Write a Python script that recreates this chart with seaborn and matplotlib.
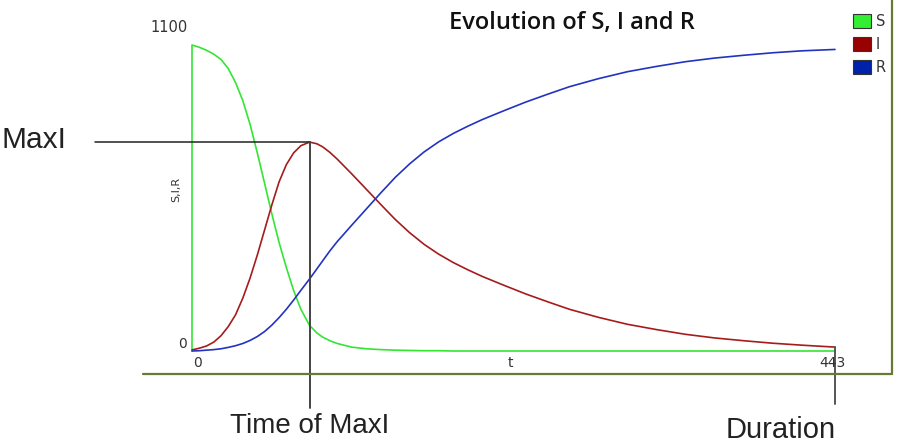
import numpy as np
import pandas as pd
import matplotlib
matplotlib.use("Agg")
import matplotlib.pyplot as plt
from matplotlib.patches import Patch
from matplotlib.lines import Line2D
import seaborn as sns

# ---- data ----
t = [0, 5, 10, 15, 20, 25, 30, 35, 40, 45, 50, 55, 60, 65, 70, 75, 81, 86, 90, 95,
     100, 110, 120, 130, 140, 150, 160, 170, 180, 190, 200, 215, 230, 245, 260, 280,
     300, 320, 340, 360, 380, 400, 420, 443]
S = [1100, 1092, 1081, 1067, 1048, 1015, 965, 900, 815, 712, 603, 493, 390, 300, 218,
     150, 92, 65, 50, 37, 27, 14, 8, 5, 3, 2, 1, 1, 0, 0, 0, 0, 0, 0, 0, 0, 0, 0, 0,
     0, 0, 0, 0, 0]
I = [4, 10, 18, 32, 55, 88, 130, 190, 262, 345, 435, 525, 608, 670, 712, 738, 751, 745,
     734, 714, 690, 637, 582, 527, 473, 425, 383, 348, 318, 292, 268, 236, 205, 177, 150,
     121, 96, 77, 60, 47, 37, 28, 21, 14]
R = [0, 1, 3, 5, 8, 13, 19, 27, 38, 52, 70, 93, 120, 150, 183, 218, 259, 295, 324, 360,
     393, 452, 510, 568, 624, 673, 716, 752, 782, 808, 832, 864, 895, 923, 950, 979,
     1004, 1023, 1040, 1053, 1063, 1072, 1079, 1084]
series_names = ["S", "I", "R"]
t_end = 443
y_top = 1100

W, H = 905, 444
fig = plt.figure(figsize=(W / 100, H / 100), dpi=100)
sns.set_style("white")
plt.rcParams["font.family"] = ["DejaVu Sans"]

# axes so that t=0 -> px 192, t=443 -> px 835, y=0 -> px 351, y=1100 -> px 45
ax = fig.add_axes([192 / W, 1 - 351 / H, (835 - 192) / W, (351 - 45) / H])
ax.set_xlim(0, t_end)
ax.set_ylim(0, y_top)
ax.axis("off")

colors = {"S": "#33e633", "I": "#a51c1c", "R": "#2233c0"}

# S curve starts with a vertical segment at t=0
dfS = pd.DataFrame({"t": [0] + t, "v": [0] + S, "series": "S"})
dfI = pd.DataFrame({"t": t, "v": I, "series": "I"})
dfR = pd.DataFrame({"t": t, "v": R, "series": "R"})
df = pd.concat([dfS, dfI, dfR], ignore_index=True)

sns.lineplot(data=df, x="t", y="v", hue="series", palette=colors, sort=False,
             estimator=None, units="series", linewidth=1.2, legend=False, ax=ax,
             clip_on=False)


def fx(px):
    return px / W


def fy(py):
    return 1 - py / H


def data_x(px):
    return (px - 192) / (835 - 192) * t_end


def data_y(py):
    return (351 - py) / (351 - 45) * y_top


# MaxI guides
imax_idx = int(np.argmax(I))
tmax, imax = t[imax_idx], I[imax_idx]
ax.plot([data_x(95), tmax], [imax, imax], color="#222222", lw=1.1, clip_on=False)
ax.plot([tmax, tmax], [imax, data_y(408)], color="#444444", lw=1.4, clip_on=False)
# Duration guide
ax.plot([t[-1], t[-1]], [I[-1], data_y(404)], color="#555555", lw=1.4, clip_on=False)

# outer frame
frame_c = "#667a35"
fig.add_artist(Line2D([fx(143), fx(892)], [fy(374), fy(374)], color=frame_c, lw=1.6))
fig.add_artist(Line2D([fx(892), fx(892)], [fy(374), fy(0)], color=frame_c, lw=1.6))

# tick-like labels
lab_c = "#333333"
fig.text(fx(188), fy(28), "1100", ha="right", va="center", fontsize=10.5, color=lab_c)
fig.text(fx(187), fy(344), "0", ha="right", va="center", fontsize=10, color=lab_c)
fig.text(fx(197), fy(363), "0", ha="center", va="center", fontsize=10, color=lab_c)
fig.text(fx(510), fy(363), "t", ha="center", va="center", fontsize=10, color=lab_c)
fig.text(fx(832), fy(363), "443", ha="center", va="center", fontsize=10, color=lab_c)
fig.text(fx(176), fy(189), "S,I,R", ha="center", va="center", fontsize=8,
         rotation=90, color=lab_c)

# title
fig.text(fx(572), fy(23), "Evolution of S, I and R", ha="center", va="center",
         fontsize=17, fontweight="semibold", family=["Open Sans", "DejaVu Sans"],
         color="#111111")

# annotations
ann = ["Liberation Sans", "DejaVu Sans"]
fig.text(fx(1), fy(140), "MaxI", ha="left", va="center", fontsize=21.5,
         family=ann, color="#222222")
fig.text(fx(310), fy(426), "Time of MaxI", ha="center", va="center", fontsize=20,
         family=ann, color="#222222")
fig.text(fx(781), fy(430), "Duration", ha="center", va="center", fontsize=21,
         family=ann, color="#222222")

# legend
leg_cols = {"S": "#33ee33", "I": "#990000", "R": "#0022aa"}
handles = [Patch(facecolor=leg_cols[n], edgecolor="#333333", lw=0.8, label=n)
           for n in series_names]
fig.legend(handles=handles, loc="upper left", bbox_to_anchor=(fx(853), fy(14)),
           frameon=False, fontsize=10.5, handlelength=1.25, handleheight=1.1,
           labelspacing=0.55, handletextpad=0.3, borderpad=0, borderaxespad=0,
           labelcolor="#333333")

fig.savefig("out.png", dpi=100)
